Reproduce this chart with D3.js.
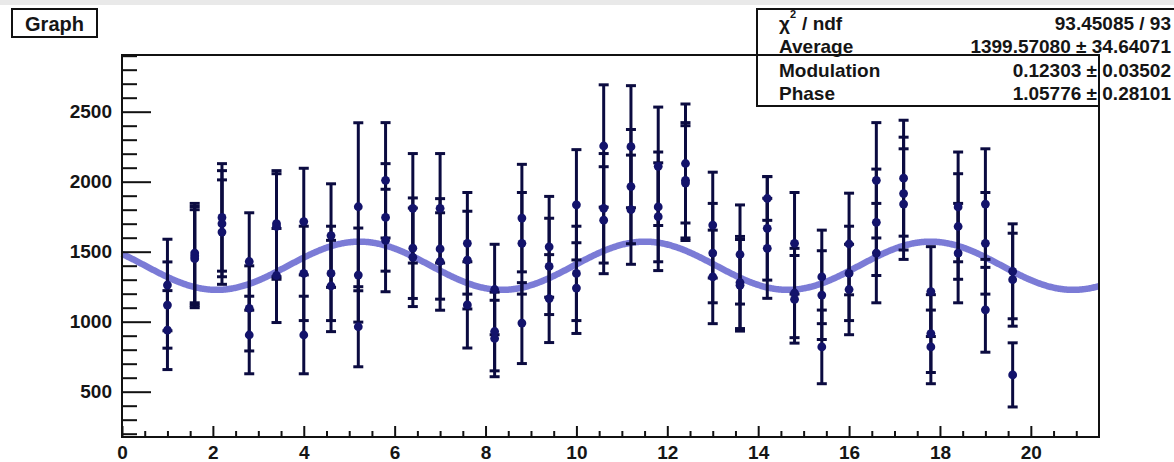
<!DOCTYPE html>
<html>
<head>
<meta charset="utf-8">
<script src="https://cdn.jsdelivr.net/npm/d3@7"></script>
<style>
  html, body { margin: 0; padding: 0; background: #ffffff; }
  svg { display: block; }
  text { font-family: "Liberation Sans", Arial, Helvetica, sans-serif; font-weight: bold; fill: #151515; }
</style>
</head>
<body>
<svg id="chart" width="1174" height="462"></svg>
<script>
// Measurement positions (three readings per position)
const xValues = [1.0, 1.6, 2.2, 2.8, 3.4, 4.0, 4.6, 5.2, 5.8, 6.4, 7.0, 7.6, 8.2, 8.8, 9.4, 10.0,
                 10.6, 11.2, 11.8, 12.4, 13.0, 13.6, 14.2, 14.8, 15.4, 16.0, 16.6, 17.2, 17.8, 18.4, 19.0, 19.6];
const yFirst  = [1262, 1490, 1745, 1430, 1700, 1715, 1615, 1821, 2010, 1810, 1810, 1560, 1230, 1740, 1535, 1835,
                 2255, 2250, 2110, 2130, 1690, 1480, 1880, 1560, 1320, 1555, 2010, 2025, 1215, 1820, 1840, 1360];
const ySecond = [1119, 1470, 1700, 1095, 1680, 1345, 1345, 1333, 1745, 1525, 1520, 1440, 930, 1560, 1395, 1345,
                 1810, 1965, 1820, 2010, 1490, 1280, 1667, 1205, 1190, 1345, 1710, 1915, 915, 1680, 1560, 1300];
const yThird  = [940, 1450, 1640, 905, 1330, 905, 1255, 964, 1580, 1460, 1430, 1120, 880, 990, 1165, 1240,
                 1725, 1800, 1750, 1990, 1320, 1260, 1524, 1160, 820, 1230, 1490, 1840, 820, 1490, 1085, 620];
const eFirst  = [327, 355, 384, 348, 379, 381, 370, 600, 412, 391, 391, 363, 323, 384, 360, 394,
                 437, 436, 423, 425, 378, 354, 156, 363, 334, 363, 412, 414, 321, 392, 395, 339];
const eSecond = [308, 353, 379, 304, 377, 337, 337, 336, 384, 359, 359, 349, 281, 363, 344, 337,
                 391, 408, 392, 412, 355, 329, 370, 319, 317, 337, 380, 403, 278, 377, 363, 332];
const eThird  = [282, 350, 373, 277, 336, 277, 326, 286, 366, 352, 348, 308, 273, 289, 314, 324,
                 382, 390, 385, 410, 334, 327, 357, 313, 263, 323, 355, 395, 263, 355, 303, 229];

// Fit result shown in the statistics box
const fitAverage = 1399.57080;
const fitModulation = 0.12303;
const fitPhase = 1.05776;
const statNames  = ["/ ndf", "Average", "Modulation", "Phase"];
const statValues = ["93.45085 / 93", "1399.57080 \u00b1 34.64071", "0.12303 \u00b1 0.03502", "1.05776 \u00b1 0.28101"];

const xTicksMajor = [0, 2, 4, 6, 8, 10, 12, 14, 16, 18, 20];
const yTicksMajor = [500, 1000, 1500, 2000, 2500];

const svg = d3.select("#chart");
const frame = { left: 122, right: 1099, top: 55, bottom: 437 };

const x = d3.scaleLinear().domain([0, 21.5]).range([frame.left, frame.right]);
const y = d3.scaleLinear().domain([176.4, 2905]).range([frame.bottom, frame.top]);

// canvas strip at the very top
svg.append("rect").attr("x", 0).attr("y", 0).attr("width", 1174).attr("height", 5).attr("fill", "#e9e9e9");

// fit curve
const curveX = d3.range(0, 21.5 + 1e-9, 0.02);
const fitFn = v => fitAverage * (1 + fitModulation * Math.cos(v + fitPhase));
svg.append("path")
  .datum(curveX)
  .attr("fill", "none")
  .attr("stroke", "#6d6dd2")
  .attr("stroke-opacity", 0.9)
  .attr("stroke-width", 6.5)
  .attr("d", d3.line().x(d => x(d)).y(d => y(fitFn(d))));

// points with error bars
const points = [];
xValues.forEach((xv, i) => {
  points.push({ x: xv, y: yFirst[i], e: eFirst[i] });
  points.push({ x: xv, y: ySecond[i], e: eSecond[i] });
  points.push({ x: xv, y: yThird[i], e: eThird[i] });
});

const barColor = "#0b0b40";
const markColor = "#13136b";
const capHalf = 5;
const gPts = svg.append("g");
gPts.selectAll("line.bar").data(points).join("line")
  .attr("class", "bar")
  .attr("x1", d => x(d.x)).attr("x2", d => x(d.x))
  .attr("y1", d => y(d.y + d.e)).attr("y2", d => y(d.y - d.e))
  .attr("stroke", barColor).attr("stroke-width", 3);
gPts.selectAll("line.capTop").data(points).join("line")
  .attr("class", "capTop")
  .attr("x1", d => x(d.x) - capHalf).attr("x2", d => x(d.x) + capHalf)
  .attr("y1", d => y(d.y + d.e)).attr("y2", d => y(d.y + d.e))
  .attr("stroke", barColor).attr("stroke-width", 3);
gPts.selectAll("line.capBot").data(points).join("line")
  .attr("class", "capBot")
  .attr("x1", d => x(d.x) - capHalf).attr("x2", d => x(d.x) + capHalf)
  .attr("y1", d => y(d.y - d.e)).attr("y2", d => y(d.y - d.e))
  .attr("stroke", barColor).attr("stroke-width", 3);
gPts.selectAll("circle").data(points).join("circle")
  .attr("cx", d => x(d.x)).attr("cy", d => y(d.y)).attr("r", 4.4)
  .attr("fill", markColor);

// statistics box
const statBox = svg.append("g");
statBox.append("rect").attr("x", 757).attr("y", 9).attr("width", 430).attr("height", 97).attr("fill", "#ffffff");
statBox.append("path").attr("d", "M1180,9 H757 V106 H1099")
  .attr("fill", "none").attr("stroke", "#111").attr("stroke-width", 2);
const rowBase = [30, 53, 77, 100];
statNames.forEach((name, i) => {
  const t = statBox.append("text").attr("x", 779).attr("y", rowBase[i]).attr("font-size", 19);
  if (i === 0) {
    t.append("tspan").text("\u03c7");
    t.append("tspan").attr("font-size", 11).attr("dy", -12).text("2");
    t.append("tspan").attr("dy", 12).attr("dx", 6).text(name);
  } else {
    t.text(name);
  }
});
statValues.forEach((val, i) => {
  statBox.append("text").attr("x", 1171).attr("y", rowBase[i]).attr("font-size", 19)
    .attr("text-anchor", "end").text(val);
});

// frame
svg.append("rect")
  .attr("x", frame.left).attr("y", frame.top)
  .attr("width", frame.right - frame.left).attr("height", frame.bottom - frame.top)
  .attr("fill", "none").attr("stroke", "#111").attr("stroke-width", 2);

// x axis
const xAxis = d3.axisBottom(x).tickValues(xTicksMajor).tickSize(-11).tickPadding(9).tickFormat(d3.format("d"));
const gx = svg.append("g").attr("transform", `translate(0,${frame.bottom})`).call(xAxis);
gx.select(".domain").remove();
gx.selectAll(".tick line").attr("stroke", "#111").attr("stroke-width", 2);
gx.selectAll(".tick text").attr("font-size", 19).attr("fill", "#151515").attr("font-family", null);
const xMinor = svg.append("g").attr("transform", `translate(0,${frame.bottom})`)
  .call(d3.axisBottom(x).tickValues(d3.range(0.5, 21.5, 0.5).filter(v => v % 2 !== 0)).tickSize(-6).tickFormat(""));
xMinor.select(".domain").remove();
xMinor.selectAll(".tick line").attr("stroke", "#111").attr("stroke-width", 2);

// y axis
const yAxis = d3.axisLeft(y).tickValues(yTicksMajor).tickSize(-29).tickPadding(10).tickFormat(d3.format("d"));
const gy = svg.append("g").attr("transform", `translate(${frame.left},0)`).call(yAxis);
gy.select(".domain").remove();
gy.selectAll(".tick line").attr("stroke", "#111").attr("stroke-width", 2);
gy.selectAll(".tick text").attr("font-size", 19).attr("fill", "#151515").attr("font-family", null);
const yMinor = svg.append("g").attr("transform", `translate(${frame.left},0)`)
  .call(d3.axisLeft(y).tickValues(d3.range(200, 2901, 100).filter(v => v % 500 !== 0)).tickSize(-15).tickFormat(""));
yMinor.select(".domain").remove();
yMinor.selectAll(".tick line").attr("stroke", "#111").attr("stroke-width", 2);

// title box
svg.append("rect").attr("x", 12).attr("y", 9).attr("width", 85).attr("height", 28)
  .attr("fill", "#ffffff").attr("stroke", "#111").attr("stroke-width", 2);
svg.append("text").attr("x", 54.5).attr("y", 31).attr("font-size", 20).attr("text-anchor", "middle").text("Graph");
</script>
</body>
</html>
